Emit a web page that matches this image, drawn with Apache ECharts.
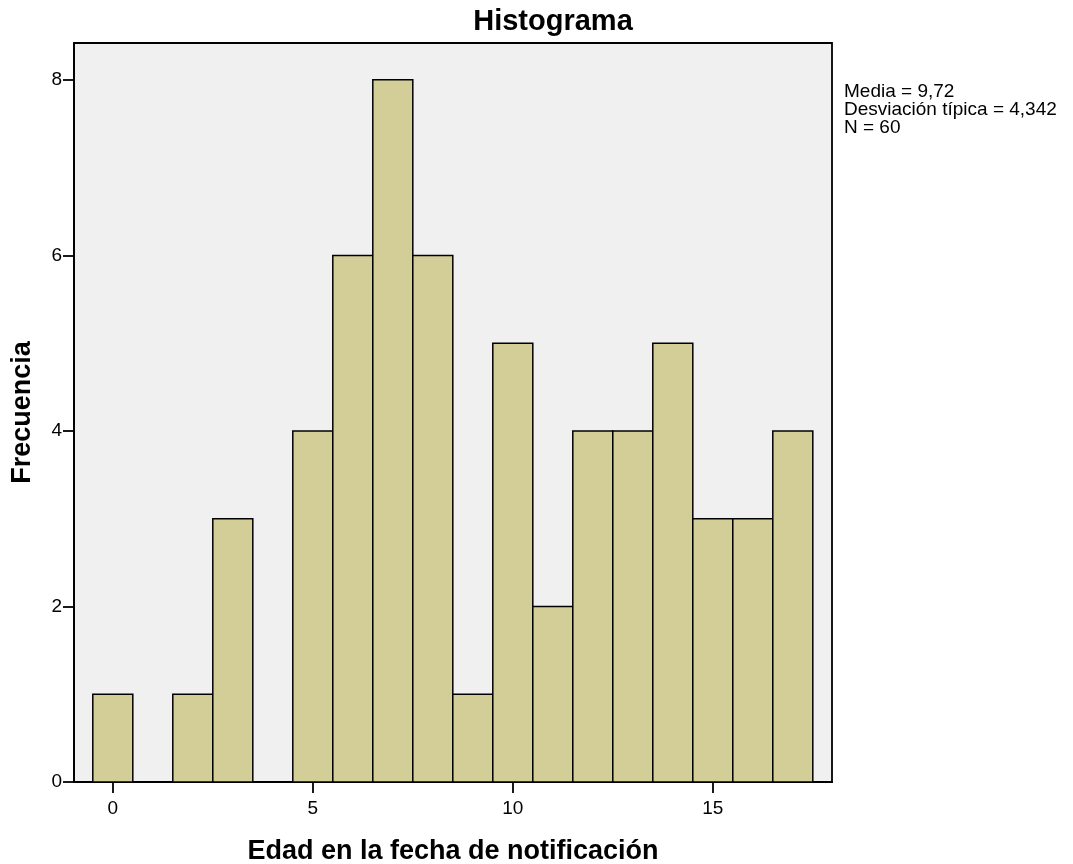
<!DOCTYPE html>
<html><head><meta charset="utf-8">
<script src="https://cdn.jsdelivr.net/npm/echarts@6/dist/echarts.min.js"></script>
<style>html,body{margin:0;padding:0;background:#fff}#c{width:1073px;height:864px}</style>
</head><body><div id="c"></div>
<script>
const binCenters = [0,1,2,3,4,5,6,7,8,9,10,11,12,13,14,15,16,17];
const frequencies = [1,0,1,3,0,4,6,8,6,1,5,2,4,4,5,3,3,4];
const xTickValues = [0,5,10,15];
const yTickValues = [0,2,4,6,8];
const statsLines = ['Media = 9,72','Desviación típica = 4,342','N = 60'];
const titleText = 'Histograma';
const xName = 'Edad en la fecha de notificación';
const yName = 'Frecuencia';

const chart = echarts.init(document.getElementById('c'), null, {renderer:'canvas'});
const FONT = 'Liberation Sans, Arial, sans-serif';
const data = binCenters.map((c,i)=>[c, frequencies[i]]).filter(d=>d[1]>0);

chart.setOption({
  animation:false,
  backgroundColor:'#ffffff',
  title:{text:titleText,left:548,top:2,textAlign:'center',
    textStyle:{fontFamily:FONT,fontSize:29,fontWeight:'bold',color:'#000'}},
  grid:{left:74,top:43,right:241,bottom:82,outerBoundsMode:'none',containLabel:false,show:true,backgroundColor:'#f0f0f0',borderColor:'#000',borderWidth:1.8},
  xAxis:{type:'value',min:-0.97,max:17.98,
    name:xName,nameLocation:'middle',nameGap:56,
    nameTextStyle:{fontFamily:FONT,fontSize:27,fontWeight:'bold',color:'#000'},
    axisLine:{show:true,onZero:false,lineStyle:{color:'#000',width:1.8}},
    axisTick:{show:true,length:11,customValues:xTickValues,lineStyle:{color:'#000',width:1.8}},
    axisLabel:{customValues:xTickValues,margin:17,fontFamily:FONT,fontSize:19,color:'#000'},
    splitLine:{show:false}},
  yAxis:{type:'value',min:0,max:8.42,interval:2,
    name:yName,nameLocation:'middle',nameGap:38,nameRotate:90,
    nameTextStyle:{fontFamily:FONT,fontSize:27,fontWeight:'bold',color:'#000'},
    axisLine:{show:true,onZero:false,lineStyle:{color:'#000',width:1.8}},
    axisTick:{show:true,length:11,lineStyle:{color:'#000',width:1.8}},
    axisLabel:{margin:12,fontFamily:FONT,fontSize:19,color:'#000',showMaxLabel:false},
    splitLine:{show:false}},
  graphic:[{type:'text',left:844,top:82,style:{text:statsLines.join('\n'),font:'19px '+FONT,fill:'#000',lineHeight:18}}],
  series:[{type:'custom',data:data,
    renderItem:function(params,api){
      const c=api.value(0), v=api.value(1);
      const p0=api.coord([c-0.5,0]), p1=api.coord([c+0.5,v]);
      return {type:'rect',shape:{x:p0[0],y:p1[1],width:p1[0]-p0[0],height:p0[1]-p1[1]},
        style:{fill:'#d3ce98',stroke:'#000',lineWidth:1.5}};
    }}]
});
</script></body></html>
